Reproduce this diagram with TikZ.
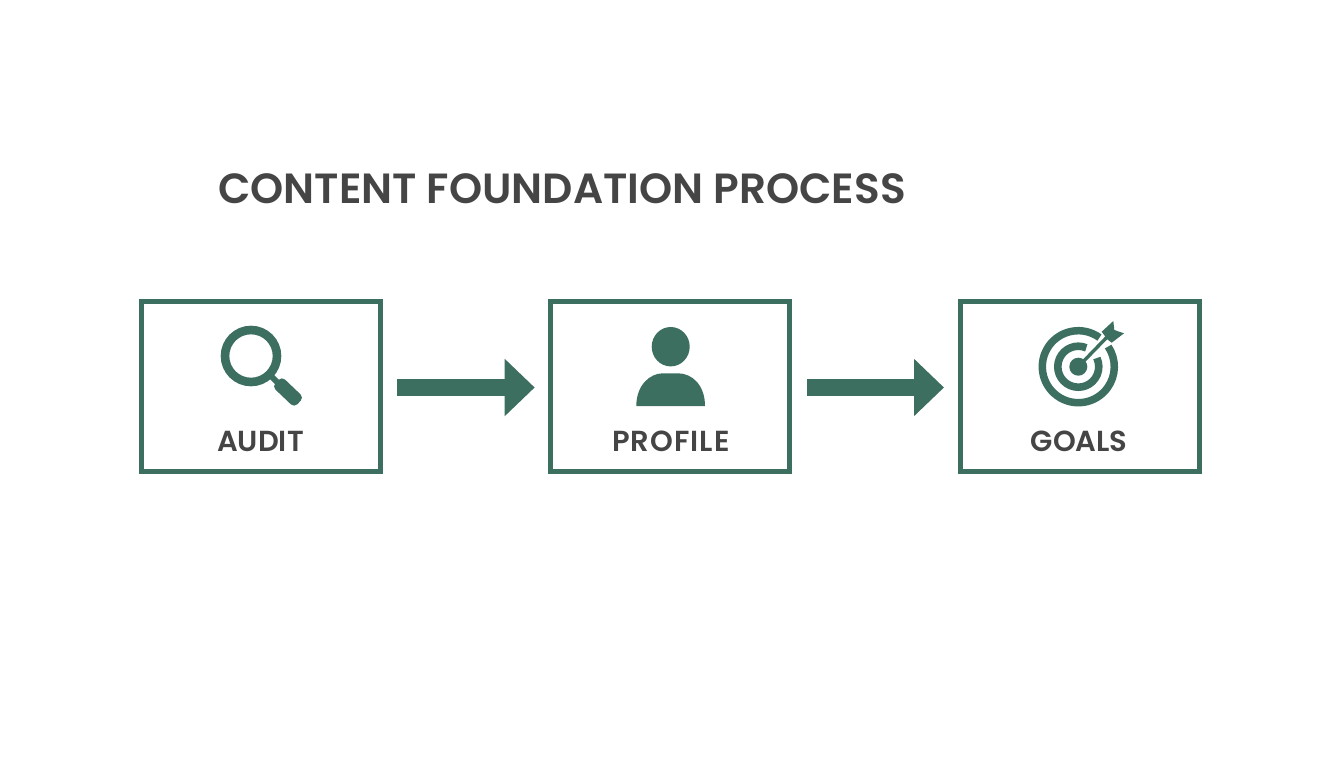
\documentclass[tikz,border=0pt]{standalone}
\usepackage{fontspec}
\usetikzlibrary{arrows.meta,calc}
\newfontfamily\labelfont{Poppins SemiBold}
\definecolor{teal}{HTML}{3D6F60}
\definecolor{ink}{HTML}{454545}
\tikzset{
  x=1pt,y=-1pt,
  box/.style={draw=teal,line width=5pt,fill=white,rectangle,minimum width=239pt,minimum height=170.5pt,outer sep=0pt,inner sep=0pt},
  flow/.style={draw=teal,line width=17pt,-{Triangle[length=30pt,width=55.5pt]},shorten <=17.3pt,shorten >=16pt},
  caption/.style={font=\labelfont\fontsize{29}{29}\selectfont,text=ink,inner sep=0pt,anchor=base},
}
\begin{document}
\begin{tikzpicture}
\useasboundingbox (0,0) rectangle (1344,768);
\fill[white] (0,0) rectangle (1344,768);
\node[font=\labelfont\fontsize{42.2}{42.2}\selectfont,text=ink,inner sep=0pt,anchor=base west] (title) at (218,203) {CONTENT FOUNDATION PROCESS};
\node[box] (audit) at (260.5,386.25) {};
\node[box] (profile) at (670.2,386.25) {};
\node[box] (goals) at (1079.5,386.25) {};
\draw[flow] ([yshift=-1.25pt]audit.east) -- ([yshift=-1.25pt]profile.west);
\draw[flow] ([yshift=-1.25pt]profile.east) -- ([yshift=-1.25pt]goals.west);
\node[caption] (a) at (260.5,451) {AUDIT};
\node[caption] (p) at (670.8,451) {\addfontfeature{LetterSpace=3.5}PROFILE};
\node[caption] (g) at (1079.2,451) {GOALS};
% magnifier
\draw[teal,line width=8.6pt] (251,356) circle (26pt);
\draw[teal,line width=6pt] (270,375) -- (280,385);
\fill[teal,rounded corners=4.5pt] (272.2,386.5) -- (281.8,376.5) -- (303.8,397.5) -- (294.2,407.5) -- cycle;
% person
\fill[teal] (670.7,346.7) ellipse (19pt and 19.7pt);
\fill[teal] (636.3,406) .. controls (636.3,385) and (650,373.3) .. (663,373.3) -- (678,373.3) .. controls (692,373.3) and (705,385) .. (705,406) -- cycle;
% target
\draw[teal,line width=7.5pt] (1078.3+36*0.588,366.7-36*0.809) arc[start angle=54,end angle=394,radius=36pt];
\draw[teal,line width=7.6pt] (1078.3+20.5*0.39,366.7-20.5*0.92) arc[start angle=67,end angle=385,radius=20.5pt];
\fill[teal] (1078.3,366.7) circle (9pt);
\draw[teal,line width=3.4pt] (1078.3,366.7) -- (1109,335);
\fill[teal] (1101.7,331.7) -- (1113.3,321) -- (1114.3,330) -- (1124,333.3) -- (1111.7,342.7) -- (1107.5,339.5) -- cycle;
\end{tikzpicture}
\end{document}
